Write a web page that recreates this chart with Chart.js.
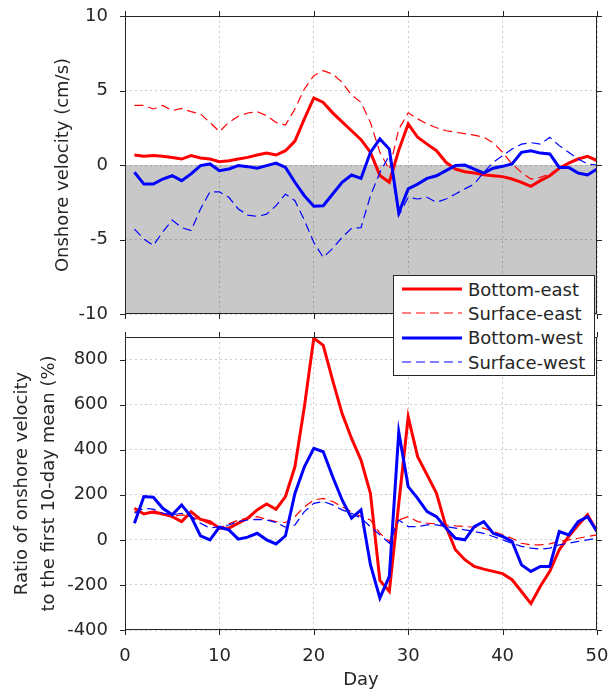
<!DOCTYPE html>
<html>
<head>
<meta charset="utf-8">
<script src="https://cdn.jsdelivr.net/npm/chart.js@4.4.1/dist/chart.umd.min.js"></script>
<style>
  body { margin: 0; background: #fff; }
  #wrap { position: relative; width: 609px; height: 693px; }
  #wrap canvas { position: absolute; left: 0; }
  #legend {
    position: absolute; left: 393px; top: 275px; width: 200px; height: 98px;
    background: #fff; border: 1px solid #262626; padding-top: 1px; box-sizing: content-box;
    font-family: 'DejaVu Sans', sans-serif; font-size: 18px; color: #262626;
  }
  #legend .row { display: flex; align-items: center; height: 24.3px; padding-left: 8px; }
  #legend svg { margin-right: 6px; }
</style>
</head>
<body>
<div id="wrap">
  <canvas id="velChart" width="609" height="328" style="top:0"></canvas>
  <canvas id="ratioChart" width="609" height="365" style="top:328px"></canvas>
  <div id="legend"></div>
</div>
<script>
// day index (x)
const days = [1, 2, 3, 4, 5, 6, 7, 8, 9, 10, 11, 12, 13, 14, 15, 16, 17, 18, 19, 20,
  21, 22, 23, 24, 25, 26, 27, 28, 29, 30, 31, 32, 33, 34, 35, 36, 37, 38, 39, 40,
  41, 42, 43, 44, 45, 46, 47, 48, 49, 50];

// tick positions
const dayTicks = [0, 10, 20, 30, 40, 50];
const velTicks = [-10, -5, 0, 5, 10];
const ratioTicks = [-400, -200, 0, 200, 400, 600, 800];

const seriesLabels = ['Bottom-east', 'Surface-east', 'Bottom-west', 'Surface-west'];

// onshore velocity (cm/s)
const bottomEastVel = [0.67, 0.58, 0.63, 0.58, 0.51, 0.4, 0.63, 0.47, 0.4, 0.22,
  0.29, 0.4, 0.51, 0.67, 0.8, 0.67, 0.96, 1.6, 3.1, 4.5,
  4.2, 3.5, 2.9, 2.3, 1.7, 0.85, -0.7, -1.16, 1.0, 2.75,
  1.86, 1.4, 0.96, 0.18, -0.27, -0.45, -0.54, -0.65, -0.72, -0.78,
  -0.94, -1.16, -1.43, -1.05, -0.72, -0.22, 0.13, 0.4, 0.58, 0.29];
const surfaceEastVel = [4.0, 4.0, 3.76, 4.0, 3.65, 3.8, 3.58, 3.42, 2.86, 2.24,
  2.86, 3.27, 3.49, 3.58, 3.31, 2.86, 2.68, 3.76, 5.1, 6.0,
  6.33, 6.1, 5.55, 4.7, 4.2, 2.86, 0.85, -0.3, 2.4, 3.5,
  3.1, 2.75, 2.5, 2.3, 2.2, 2.1, 2.0, 1.86, 1.5, 0.85,
  0.07, -0.5, -0.94, -0.83, -0.6, -0.22, 0.13, 0.45, 0.51, 0.4];
const bottomWestVel = [-0.49, -1.28, -1.28, -0.94, -0.72, -1.05, -0.6, -0.04, 0.07, -0.38,
  -0.27, -0.04, -0.11, -0.22, -0.04, 0.13, -0.16, -1.16, -2.06, -2.77,
  -2.73, -1.95, -1.16, -0.67, -0.9, 0.85, 1.75, 1.07, -3.2, -1.6,
  -1.28, -0.9, -0.72, -0.38, -0.04, 0, -0.27, -0.54, -0.22, -0.09,
  0.07, 0.85, 0.96, 0.8, 0.74, -0.16, -0.16, -0.54, -0.67, -0.27];
const surfaceWestVel = [-4.3, -4.97, -5.4, -4.5, -3.7, -4.2, -4.4, -2.95, -1.8, -1.8,
  -2.17, -2.95, -3.36, -3.45, -3.3, -2.73, -1.95, -2.4, -3.7, -5.2,
  -6.2, -5.6, -4.85, -4.25, -4.2, -2.06, -0.5, 0.63, -3.4, -2.17,
  -2.28, -2.17, -2.5, -2.28, -1.95, -1.6, -1.28, -0.5, 0.18, 0.63,
  1.07, 1.4, 1.5, 1.4, 1.86, 1.3, 0.85, 0.4, 0.07, 0];

// ratio to the first 10-day mean (%)
const bottomEastRatio = [140, 115, 125, 115, 103, 81, 125, 91, 81, 52,
  52, 74, 96, 133, 159, 136, 192, 324, 590, 895,
  863, 708, 560, 450, 354, 206, -180, -229, 160, 546,
  369, 288, 206, 59, -44, -88, -118, -130, -140, -150,
  -177, -229, -283, -206, -140, -44, 15, 66, 111, 37];
const surfaceEastRatio = [125, 121, 118, 111, 103, 111, 103, 88, 71, 52,
  71, 88, 96, 103, 91, 81, 77, 103, 147, 177,
  184, 170, 147, 125, 103, 88, 29, -7, 88, 103,
  81, 74, 71, 66, 62, 59, 56, 52, 37, 22,
  7, -15, -22, -22, -18, -7, 0, 7, 15, 22];
const bottomWestRatio = [74, 192, 189, 140, 111, 155, 103, 18, 0, 56,
  44, 3, 12, 29, 0, -18, 18, 206, 324, 406,
  391, 280, 177, 96, 133, -110, -258, -162, 479, 236,
  184, 125, 103, 52, 7, 0, 59, 81, 29, 15,
  -7, -111, -140, -118, -118, 37, 22, 81, 103, 37];
const surfaceWestRatio = [118, 140, 136, 118, 111, 118, 103, 74, 52, 59,
  66, 81, 88, 91, 88, 77, 56, 66, 125, 162,
  170, 155, 133, 118, 96, 59, 22, -15, 88, 59,
  59, 66, 66, 59, 52, 44, 37, 29, 15, 0,
  -15, -29, -37, -41, -37, -22, -15, -7, 0, 7];

const axisColor = '#262626';
const gridColor = 'rgba(0,0,0,0.2)';
const styles = [
  { color: '#ff0000', width: 3, dash: [] },
  { color: '#ff0000', width: 1.2, dash: [9, 5] },
  { color: '#0000ff', width: 3, dash: [] },
  { color: '#0000ff', width: 1.2, dash: [9, 5] },
];

Chart.defaults.font.family = "'DejaVu Sans', sans-serif";
Chart.defaults.font.size = 18;
Chart.defaults.color = axisColor;

function makeDatasets(seriesList) {
  // later series sit on top
  return seriesList.map((data, i) => ({
    label: seriesLabels[i],
    data,
    borderColor: styles[i].color,
    borderWidth: styles[i].width,
    borderDash: styles[i].dash,
    pointRadius: 0,
    tension: 0,
    fill: false,
    order: seriesList.length - i,
  }));
}

// gray band below zero in the velocity panel
const shadePlugin = {
  id: 'shade',
  beforeDraw(chart) {
    const { ctx, chartArea: a, scales: { y } } = chart;
    const y0 = y.getPixelForValue(0), y1 = y.getPixelForValue(y.min);
    ctx.save();
    ctx.fillStyle = '#c8c8c8';
    ctx.fillRect(a.left, y0, a.right - a.left, y1 - y0);
    ctx.restore();
  }
};

// box around the axes with outward tick marks
const framePlugin = {
  id: 'frame',
  afterDraw(chart) {
    const { ctx, chartArea: a, scales: { x, y } } = chart;
    ctx.save();
    ctx.strokeStyle = axisColor;
    ctx.lineWidth = 1;
    ctx.strokeRect(Math.round(a.left) + 0.5, Math.round(a.top) + 0.5,
      Math.round(a.right - a.left) - 1, Math.round(a.bottom - a.top) - 1);
    ctx.beginPath();
    x.ticks.forEach(t => {
      const px = Math.round(x.getPixelForValue(t.value)) + 0.5;
      ctx.moveTo(px, a.top); ctx.lineTo(px, a.top - 5);
      ctx.moveTo(px, a.bottom); ctx.lineTo(px, a.bottom + 5);
    });
    y.ticks.forEach(t => {
      const py = Math.round(y.getPixelForValue(t.value)) + 0.5;
      ctx.moveTo(a.left, py); ctx.lineTo(a.left - 5, py);
      ctx.moveTo(a.right, py); ctx.lineTo(a.right + 5, py);
    });
    ctx.stroke();
    ctx.restore();
  }
};

function noEdgePadding(s) {
  s.paddingTop = 0; s.paddingBottom = 0; s.paddingLeft = 0; s.paddingRight = 0;
}

function xAxis(showLabels) {
  return {
    type: 'linear', min: 0, max: 50,
    afterBuildTicks: s => { s.ticks = dayTicks.map(v => ({ value: v })); },
    ticks: { display: showLabels, padding: 16, maxRotation: 0 },
    grid: { color: gridColor, drawTicks: false },
    border: { display: false, dash: [2, 3] },
    title: { display: showLabels, text: 'Day', padding: { top: 0, bottom: 2 } },
    afterFit: s => { s.height = showLabels ? 63 : 0; noEdgePadding(s); },
  };
}

function yAxis(min, max, tickList, title, titleOpts) {
  return {
    min, max,
    afterBuildTicks: s => { s.ticks = tickList.map(v => ({ value: v })); },
    ticks: { padding: 17 },
    grid: { color: gridColor, drawTicks: false },
    border: { display: false, dash: [2, 3] },
    title: Object.assign({ display: true, text: title }, titleOpts),
    afterFit: s => { s.width = 125; noEdgePadding(s); },
  };
}

new Chart(document.getElementById('velChart'), {
  type: 'line',
  data: { labels: days, datasets: makeDatasets([bottomEastVel, surfaceEastVel, bottomWestVel, surfaceWestVel]) },
  options: {
    responsive: false, animation: false,
    layout: { padding: { left: 0, right: 12, top: 16, bottom: 14 } },
    plugins: { legend: { display: false }, tooltip: { enabled: false } },
    scales: {
      x: xAxis(false),
      y: yAxis(-10, 10, velTicks, 'Onshore velocity (cm/s)', { padding: { top: 53, bottom: 0 } }),
    },
  },
  plugins: [shadePlugin, framePlugin],
});

new Chart(document.getElementById('ratioChart'), {
  type: 'line',
  data: { labels: days, datasets: makeDatasets([bottomEastRatio, surfaceEastRatio, bottomWestRatio, surfaceWestRatio]) },
  options: {
    responsive: false, animation: false,
    layout: { padding: { left: 0, right: 12, top: 9, bottom: 0 } },
    plugins: { legend: { display: false }, tooltip: { enabled: false } },
    scales: {
      x: xAxis(true),
      y: yAxis(-400, 900, ratioTicks, ['Ratio of onshore velocity', 'to the first 10-day mean (%)'],
        { padding: { top: 8.5, bottom: 0 }, font: { size: 18, lineHeight: 1.5 } }),
    },
  },
  plugins: [framePlugin],
});

// legend box spanning both panels
document.getElementById('legend').innerHTML = seriesLabels.map((lbl, i) => `
  <div class="row">
    <svg width="60" height="6"><line x1="0" y1="3" x2="60" y2="3" stroke="${styles[i].color}"
      stroke-width="${styles[i].width}" stroke-dasharray="${styles[i].dash.join(' ') || 'none'}"/></svg>
    <span>${lbl}</span>
  </div>`).join('');
</script>
</body>
</html>
